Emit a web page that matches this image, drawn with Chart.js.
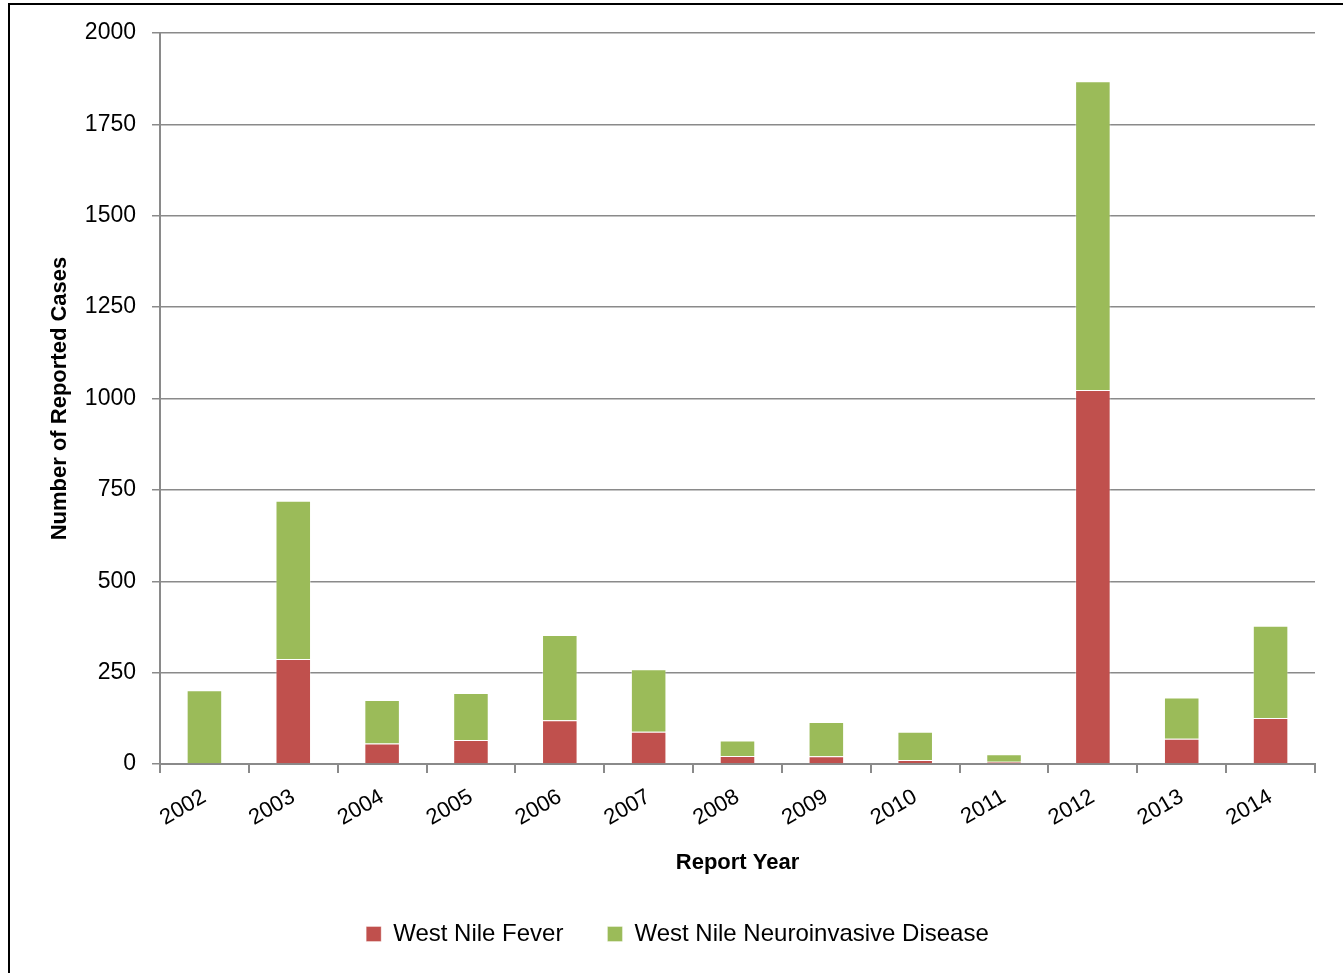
<!DOCTYPE html>
<html>
<head>
<meta charset="utf-8">
<script src="https://cdn.jsdelivr.net/npm/chart.js"></script>
<style>
  html, body { margin: 0; padding: 0; background: #fff; }
  #wrap { position: relative; width: 1343px; height: 973px; overflow: hidden; }
  #frame { position: absolute; left: 8px; top: 3px; width: 1400px; height: 1000px;
           border-left: 2px solid #000; border-top: 2px solid #000; }
  canvas { position: absolute; left: 0; top: 0; }
</style>
</head>
<body>
<div id="wrap">
  <div id="frame"></div>
  <canvas id="wnvChart" width="1343" height="973"></canvas>
</div>
<script>
// data
var years = ['2002', '2003', '2004', '2005', '2006', '2007', '2008',
             '2009', '2010', '2011', '2012', '2013', '2014'];
var feverCases = [0, 287, 56, 66, 120, 88, 22, 21, 11, 6, 1023, 69, 126];
var neuroCases = [202, 433, 119, 128, 233, 171, 42, 94, 77, 21, 845, 113, 252];
var yTicks = [0, 250, 500, 750, 1000, 1250, 1500, 1750, 2000];

var gridGray = '#8a8a8a';
var fontFamily = '"Liberation Sans", Arial, sans-serif';

document.addEventListener('DOMContentLoaded', function() {
    var ctx = document.getElementById('wnvChart').getContext('2d');

    var data = {
        labels: years,
        datasets: [{
            label: 'West Nile Fever',
            data: feverCases,
            backgroundColor: '#C0504D',
            borderColor: 'rgba(255,255,255,0.35)',
            borderWidth: 1,
            barPercentage: 0.4,
            categoryPercentage: 1.0
        },
        {
            label: 'West Nile Neuroinvasive Disease',
            data: neuroCases,
            backgroundColor: '#9BBB59',
            borderColor: 'rgba(255,255,255,0.35)',
            borderWidth: 1,
            barPercentage: 0.4,
            categoryPercentage: 1.0
        }]
    };

    var options = {
        responsive: false,
        animation: false,
        layout: { padding: { left: 40, right: 28, top: 33, bottom: 17 } },
        plugins: {
            tooltip: { enabled: false },
            legend: {
                position: 'bottom',
                labels: {
                    color: '#000',
                    font: { family: fontFamily, size: 24 },
                    boxWidth: 15,
                    boxHeight: 15,
                    padding: 44
                }
            }
        },
        scales: {
            x: {
                stacked: true,
                offset: true,
                border: { color: gridGray, width: 2 },
                grid: {
                    offset: true,
                    drawOnChartArea: false,
                    color: gridGray,
                    lineWidth: 2,
                    tickLength: 9
                },
                ticks: {
                    color: '#000',
                    font: { family: fontFamily, size: 22 },
                    minRotation: 30,
                    maxRotation: 30,
                    padding: 11
                },
                title: {
                    display: true,
                    text: 'Report Year',
                    color: '#000',
                    font: { family: fontFamily, size: 22, weight: 'bold' },
                    padding: { top: 6, bottom: 2 }
                },
                afterFit: function(scale) { scale.height = 114; }
            },
            y: {
                stacked: true,
                min: 0,
                max: 2000,
                border: { color: gridGray, width: 2 },
                grid: {
                    color: gridGray,
                    lineWidth: 1.5,
                    tickLength: 8
                },
                afterBuildTicks: function(scale) {
                    scale.ticks = yTicks.map(function(v) { return { value: v }; });
                },
                ticks: {
                    color: '#000',
                    font: { family: fontFamily, size: 23 },
                    padding: 16,
                    callback: function(v) { return String(v); }
                },
                title: {
                    display: true,
                    text: 'Number of Reported Cases',
                    color: '#000',
                    font: { family: fontFamily, size: 22, weight: 'bold' },
                    padding: { top: 7, bottom: 4 }
                },
                afterFit: function(scale) { scale.width = 120; }
            }
        }
    };

    new Chart(ctx, {
        type: 'bar',
        data: data,
        options: options
    });
});
</script>
</body>
</html>
